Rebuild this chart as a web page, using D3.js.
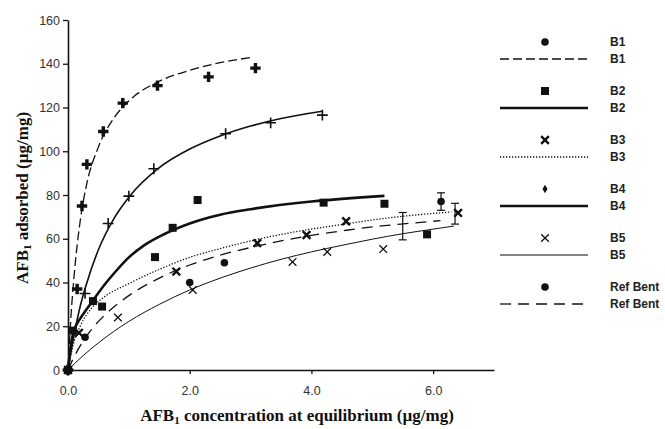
<!DOCTYPE html>
<html>
<head>
<meta charset="utf-8">
<script src="https://cdn.jsdelivr.net/npm/d3@7"></script>
<style>
  body { margin: 0; background: #fff; }
</style>
</head>
<body>
<div id="chart"></div>
<script>

// measured points (x = equilibrium conc, y = adsorbed)
const b1Points = [[0,0],[0.15,37],[0.23,75],[0.31,94],[0.58,109],[0.9,122],[1.47,130],[2.31,134],[3.08,138]];
const b2Points = [[0,0],[0.08,18],[0.41,31.5],[0.56,29],[1.43,51.6],[1.72,65],[2.13,77.7],[4.2,76.5],[5.2,76],[5.9,62]];
const b3Points = [[0,0],[0.18,17],[1.78,45],[3.11,58],[3.92,61.7],[4.57,68],[6.41,71.8]];
const b4Points = [[0,0],[0.28,35],[0.66,67],[1.0,79.5],[1.41,92],[2.59,108],[3.33,113],[4.18,116.5]];
const b5Points = [[0,0],[0.82,24],[2.05,36.6],[3.69,49.4],[4.26,54],[5.18,55.3]];
const refPoints = [[0,0],[0.28,15],[2.0,40],[2.57,49],[6.13,77]];

// fitted curves
const b1Curve = [[0,0],[0.05,25],[0.1,43],[0.2,68],[0.3,84],[0.5,102],[0.75,115],[1,123],[1.5,132],[2,137],[2.5,140.5],[3.05,143]];
const b2Curve = [[0,0],[0.05,12],[0.1,18],[0.2,23.5],[0.3,27.5],[0.41,31.8],[0.6,39],[0.75,44],[1,51.5],[1.25,57],[1.5,61],[2,67],[2.5,71],[3,73.5],[4,77],[5.2,79.6]];
const b3Curve = [[0,0],[0.1,13],[0.2,20],[0.41,29],[0.6,33.5],[1,39.5],[1.5,46],[2,51.5],[2.5,55.5],[3,59],[3.7,63],[4.5,66.5],[5.2,69.3],[6.3,72.3]];
const b4Curve = [[0,0],[0.05,8.5],[0.1,16],[0.2,29],[0.3,39],[0.5,55],[0.75,69],[1,79],[1.5,92.5],[2,101],[2.5,107],[3,111.5],[3.5,115],[4.18,118.3]];
const b5Curve = [[0,0],[0.25,6.6],[0.5,12.4],[1,22.2],[1.5,30],[2,36.6],[2.5,42],[3,46.6],[3.5,50.6],[4,54],[4.5,57],[5,59.8],[5.5,62.3],[6,64.4],[6.34,65.8]];
const refCurve = [[0,0],[0.1,6],[0.2,11],[0.4,19],[0.6,25],[1,34],[1.5,42],[2,48],[2.5,52.5],[3,56],[3.5,59],[4,61.5],[4.6,64],[5.2,66],[5.6,67],[6.12,68.3]];

// error bars: x, low, high
const errorBars = [[5.5,59.5,72],[6.13,73,81],[6.36,66.7,76.2]];

const seriesNames = ["B1","B2","B3","B4","B5","Ref Bent"];
const xTicks = [0,2,4,6];
const yTicks = [0,20,40,60,80,100,120,140,160];

function drawChart() {

    const dims = {
        width: 665,
        height: 429,
        left: 68,
        right: 494,
        top: 20,
        bottom: 370
    };

    const svg = d3.select("#chart")
        .append("svg")
        .attr("width", dims.width)
        .attr("height", dims.height)
        .style("font-family", "'Liberation Sans', Arial, sans-serif");

    const xScale = d3.scaleLinear().domain([0, 7]).range([dims.left, dims.right]);
    const yScale = d3.scaleLinear().domain([0, 160]).range([dims.bottom, dims.top]);

    const styles = {
        "B1": { width: 1.3, legendWidth: 1.3, dash: "9,4", mark: "cross", legendMark: "circle" },
        "B2": { width: 2.6, legendWidth: 2.6, dash: null, mark: "square", legendMark: "square" },
        "B3": { width: 1.3, legendWidth: 1.3, dash: "1.3,1.7", mark: "timesBold", legendMark: "timesBold" },
        "B4": { width: 1.6, legendWidth: 2.4, dash: null, mark: "plus", legendMark: "diamond" },
        "B5": { width: 1, legendWidth: 1.2, dash: null, mark: "times", legendMark: "times" },
        "Ref Bent": { width: 1.3, legendWidth: 1.3, dash: "11,7", mark: "circle", legendMark: "circle" }
    };

    const pointSets = [b1Points, b2Points, b3Points, b4Points, b5Points, refPoints];
    const curveSets = [b1Curve, b2Curve, b3Curve, b4Curve, b5Curve, refCurve];

    // axes
    const yAxis = d3.axisLeft(yScale).tickValues(yTicks).tickSize(5).tickSizeOuter(0).tickPadding(3);
    const xAxis = d3.axisBottom(xScale).tickValues(xTicks).tickSize(4).tickSizeOuter(0).tickPadding(12);

    const yAxisGroup = svg.append("g")
        .attr("transform", `translate(${dims.left},0)`)
        .call(yAxis);
    const xAxisGroup = svg.append("g")
        .attr("transform", `translate(0,${dims.bottom})`)
        .call(xAxis);

    [xAxisGroup, yAxisGroup].forEach(g => {
        g.select(".domain").attr("stroke", "#111").attr("stroke-width", 1.6);
        g.selectAll(".tick line").attr("stroke", "#111").attr("stroke-width", 1.3);
        g.selectAll(".tick text")
            .attr("fill", "#333")
            .style("font-size", "12.5px")
            .style("font-family", "'Liberation Sans', Arial, sans-serif");
    });

    const line = d3.line()
        .x(d => xScale(d[0]))
        .y(d => yScale(d[1]))
        .curve(d3.curveMonotoneX);

    // fitted curves
    curveSets.forEach((c, i) => {
        const s = styles[seriesNames[i]];
        svg.append("path")
            .datum(c)
            .attr("fill", "none")
            .attr("stroke", "#111")
            .attr("stroke-width", s.width)
            .attr("stroke-dasharray", s.dash)
            .attr("d", line);
    });

    // error bars
    const eb = svg.append("g").attr("stroke", "#111").attr("stroke-width", 1.2);
    errorBars.forEach(d => {
        const x = xScale(d[0]);
        eb.append("line").attr("x1", x).attr("x2", x).attr("y1", yScale(d[1])).attr("y2", yScale(d[2]));
        eb.append("line").attr("x1", x - 4).attr("x2", x + 4).attr("y1", yScale(d[1])).attr("y2", yScale(d[1]));
        eb.append("line").attr("x1", x - 4).attr("x2", x + 4).attr("y1", yScale(d[2])).attr("y2", yScale(d[2]));
    });

    function drawMark(g, type, x, y) {
        if (type === "circle") {
            g.append("circle").attr("cx", x).attr("cy", y).attr("r", 3.8).attr("fill", "#111");
        } else if (type === "square") {
            g.append("rect").attr("x", x - 4).attr("y", y - 4).attr("width", 8).attr("height", 8).attr("fill", "#111");
        } else if (type === "cross") {
            g.append("path").attr("transform", `translate(${x},${y})`)
                .attr("d", d3.symbol(d3.symbolCross, 60)()).attr("fill", "#111");
        } else if (type === "plus") {
            g.append("path").attr("transform", `translate(${x},${y})`)
                .attr("d", d3.symbol(d3.symbolPlus, 40)()).attr("fill", "none")
                .attr("stroke", "#111").attr("stroke-width", 1.6);
        } else if (type === "diamond") {
            g.append("path").attr("transform", `translate(${x},${y})`)
                .attr("d", d3.symbol(d3.symbolDiamond, 22)()).attr("fill", "#111");
        } else if (type === "timesBold") {
            g.append("path").attr("transform", `translate(${x},${y})`)
                .attr("d", d3.symbol(d3.symbolTimes, 40)()).attr("fill", "none")
                .attr("stroke", "#111").attr("stroke-width", 2.4);
        } else if (type === "times") {
            g.append("path").attr("transform", `translate(${x},${y})`)
                .attr("d", d3.symbol(d3.symbolTimes, 40)()).attr("fill", "none")
                .attr("stroke", "#111").attr("stroke-width", 1.3);
        }
    }

    // data markers
    const marks = svg.append("g");
    pointSets.forEach((pts, i) => {
        const s = styles[seriesNames[i]];
        pts.forEach(p => drawMark(marks, s.mark, xScale(p[0]), yScale(p[1])));
    });

    // legend
    const legend = svg.append("g");
    seriesNames.forEach((name, i) => {
        const s = styles[name];
        const y0 = 42 + i * 49;
        drawMark(legend, s.legendMark, 545, y0);
        legend.append("line")
            .attr("x1", 500).attr("x2", 588)
            .attr("y1", y0 + 17).attr("y2", y0 + 17)
            .attr("stroke", "#111")
            .attr("stroke-width", s.legendWidth)
            .attr("stroke-dasharray", s.dash);
        [y0, y0 + 17].forEach(ty => {
            legend.append("text")
                .attr("x", 610).attr("y", ty)
                .attr("dy", "0.35em")
                .attr("fill", "#222")
                .style("font-size", "12px")
                .style("font-weight", "bold")
                .text(name);
        });
    });

    // axis titles
    const xTitle = svg.append("text")
        .attr("x", 297).attr("y", 421)
        .attr("text-anchor", "middle")
        .style("font-family", "'Liberation Serif', 'Times New Roman', serif")
        .style("font-weight", "bold")
        .style("font-size", "17px")
        .attr("fill", "#111");
    xTitle.append("tspan").text("AFB");
    xTitle.append("tspan").attr("dy", 3).style("font-size", "11px").text("1");
    xTitle.append("tspan").attr("dy", -3).text(" concentration at equilibrium (µg/mg)");

    const yTitle = svg.append("text")
        .attr("transform", "translate(28,198) rotate(-90)")
        .attr("text-anchor", "middle")
        .style("font-family", "'Liberation Serif', 'Times New Roman', serif")
        .style("font-weight", "bold")
        .style("font-size", "17px")
        .attr("fill", "#111");
    yTitle.append("tspan").text("AFB");
    yTitle.append("tspan").attr("dy", 3).style("font-size", "11px").text("1");
    yTitle.append("tspan").attr("dy", -3).text(" adsorbed (µg/mg)");
}

drawChart();
</script>
</body>
</html>
